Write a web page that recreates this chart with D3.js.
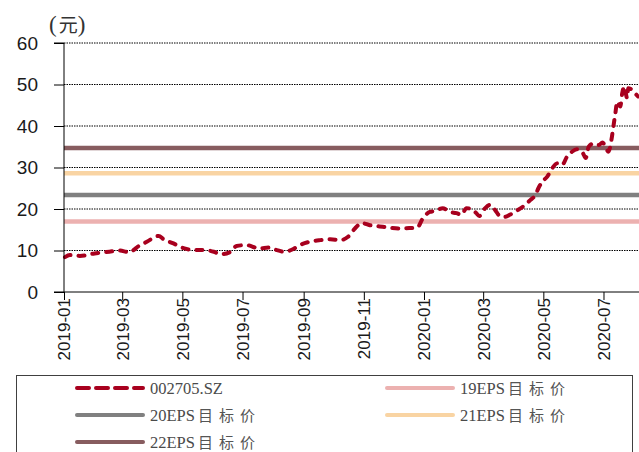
<!DOCTYPE html>
<html>
<head>
<meta charset="utf-8">
<script src="https://cdn.jsdelivr.net/npm/d3@7"></script>
<style>
  body { margin: 0; background: #fff; }
  svg { display: block; }
</style>
</head>
<body>
<div id="chart"></div>
<script>
var svgWidth = 639;
var svgHeight = 452;

// plot area
var margin = { top: 43, right: 0, bottom: 160, left: 64 };
var width = svgWidth - margin.left - margin.right;
var height = svgHeight - margin.top - margin.bottom;

// stock price
var priceDates = [
  "2019-01-02","2019-01-07","2019-01-17","2019-02-01","2019-02-16","2019-02-26","2019-03-08","2019-03-18",
  "2019-03-26","2019-04-07","2019-04-12","2019-04-22","2019-05-03","2019-05-13","2019-05-23","2019-06-02",
  "2019-06-09","2019-06-19","2019-06-25","2019-07-05","2019-07-18","2019-07-28","2019-08-05","2019-08-12",
  "2019-08-21","2019-08-28","2019-09-07","2019-09-18","2019-09-28","2019-10-08","2019-10-16","2019-10-23",
  "2019-10-30","2019-11-07","2019-11-17","2019-11-27","2019-12-07","2019-12-17","2019-12-25","2019-12-31",
  "2020-01-07","2020-01-12","2020-01-20","2020-01-27","2020-02-03","2020-02-08","2020-02-13","2020-02-18",
  "2020-02-23","2020-02-26","2020-03-03","2020-03-08","2020-03-13","2020-03-18","2020-03-23","2020-03-28",
  "2020-04-04","2020-04-11","2020-04-18","2020-04-23","2020-04-26","2020-04-30","2020-05-05","2020-05-10",
  "2020-05-15","2020-05-20","2020-05-25","2020-05-30","2020-06-04","2020-06-10","2020-06-13","2020-06-16",
  "2020-06-21","2020-06-26","2020-06-30","2020-07-03","2020-07-06","2020-07-09","2020-07-11","2020-07-13",
  "2020-07-15","2020-07-18","2020-07-20","2020-07-22","2020-07-25","2020-07-26","2020-07-30","2020-08-02",
  "2020-08-05"
];
var priceValues = [
  8.4, 8.9, 8.7, 9.3, 9.7, 10.0, 9.6, 11.1,
  12.1, 13.5, 12.7, 11.7, 10.5, 10.1, 10.1, 9.7,
  9.1, 9.7, 11.1, 11.3, 10.5, 10.7, 10.1, 9.7,
  10.3, 11.3, 12.1, 12.5, 12.7, 12.5, 13.3, 15.3,
  16.6, 16.1, 15.8, 15.5, 15.3, 15.4, 15.5, 17.8,
  19.3, 19.5, 20.2, 19.3, 19.0, 18.6, 20.2, 20.0,
  19.0, 18.3, 20.2, 21.0, 19.8, 18.3, 18.1, 18.6,
  19.6, 20.7, 22.2, 23.4, 25.0, 26.6, 27.8, 29.8,
  31.0, 30.6, 32.6, 33.8, 34.4, 33.5, 32.3, 35.0,
  35.8, 35.4, 36.0, 35.0, 33.8, 36.6, 39.8, 43.0,
  45.9, 44.7, 47.9, 49.5, 46.7, 49.1, 48.7, 47.9,
  47.1
];

// target price lines
var targetNames = ["19EPS目标价", "20EPS目标价", "21EPS目标价", "22EPS目标价"];
var targetValues = [17.0, 23.4, 28.6, 34.7];
var targetColors = ["#ecb1b0", "#808080", "#f9d4a3", "#875c5f"];

var yTicks = [0, 10, 20, 30, 40, 50, 60];
var xTickDates = ["2019-01","2019-03","2019-05","2019-07","2019-09","2019-11",
                  "2020-01","2020-03","2020-05","2020-07"];

var parseDay = d3.timeParse("%Y-%m-%d");
var parseMonth = d3.timeParse("%Y-%m");
var priceData = priceDates.map(function(d, i) {
  return { date: parseDay(d), value: priceValues[i] };
});

var svg = d3.select("#chart")
  .append("svg")
  .attr("width", svgWidth)
  .attr("height", svgHeight);

var chart = svg.append("g")
  .attr("transform", `translate(${margin.left}, ${margin.top})`);

var xScale = d3.scaleTime()
  .domain([parseDay("2019-01-01"), parseDay("2020-08-06")])
  .range([0, width]);

var yScale = d3.scaleLinear()
  .domain([0, 60])
  .range([height, 0]);

// dotted grid lines
chart.append("g")
  .selectAll("line")
  .data(yTicks.filter(d => d > 0))
  .enter()
  .append("line")
  .attr("x1", 0)
  .attr("x2", width)
  .attr("y1", d => yScale(d))
  .attr("y2", d => yScale(d))
  .attr("stroke", "#000")
  .attr("stroke-width", 1)
  .attr("stroke-dasharray", "1.5,1");

// target price lines
chart.append("g")
  .selectAll("line")
  .data(targetValues)
  .enter()
  .append("line")
  .attr("x1", xScale.range()[0])
  .attr("x2", xScale.range()[1])
  .attr("y1", d => yScale(d))
  .attr("y2", d => yScale(d))
  .attr("stroke", (d, i) => targetColors[i])
  .attr("stroke-width", 4.5);

// stock line
var line = d3.line()
  .x(d => xScale(d.date))
  .y(d => yScale(d.value))
  .curve(d3.curveMonotoneX);

chart.append("path")
  .datum(priceData)
  .attr("fill", "none")
  .attr("stroke", "#a8001e")
  .attr("stroke-width", 4)
  .attr("stroke-linecap", "round")
  .attr("stroke-dasharray", "6,8")
  .attr("d", line);

// axes
var leftAxis = d3.axisLeft(yScale).tickValues(yTicks).tickSize(10).tickPadding(16);
var bottomAxis = d3.axisBottom(xScale)
  .tickValues(xTickDates.map(parseMonth))
  .tickFormat(d3.timeFormat("%Y-%m"))
  .tickSize(8);

var yAxisG = chart.append("g").call(leftAxis);
yAxisG.select(".domain").attr("d", `M-10,${height}H0V0H-10`).attr("stroke", "#000");
yAxisG.selectAll("text")
  .attr("font-family", "Liberation Sans, Arial, sans-serif")
  .attr("font-size", "19px")
  .attr("fill", "#1a1a1a");

var xAxisG = chart.append("g")
  .attr("transform", `translate(0, ${height})`)
  .call(bottomAxis);
xAxisG.select(".domain").attr("d", `M0,0H${width}`).attr("stroke", "#000");
xAxisG.selectAll("text")
  .attr("font-family", "Liberation Sans, Arial, sans-serif")
  .attr("font-size", "17px")
  .attr("fill", "#1a1a1a")
  .attr("transform", "rotate(-90)")
  .attr("text-anchor", "end")
  .attr("x", -6)
  .attr("y", 0)
  .attr("dy", "0.35em");

// unit label
var unit = svg.append("text")
  .attr("x", 49)
  .attr("y", 32)
  .attr("fill", "#333");
unit.append("tspan").attr("font-family", "Liberation Serif, serif").attr("font-size", "23px").text("(");
unit.append("tspan").attr("font-family", "Noto Sans CJK SC, sans-serif").attr("font-size", "19px").attr("dx", 2).text("元");
unit.append("tspan").attr("font-family", "Liberation Serif, serif").attr("font-size", "23px").text(")");

// legend
var legend = svg.append("g");
legend.append("rect")
  .attr("x", 16.5)
  .attr("y", 375.5)
  .attr("width", 616)
  .attr("height", 90)
  .attr("fill", "none")
  .attr("stroke", "#404040")
  .attr("stroke-width", 1);

var legendItems = [
  { name: "002705.SZ", color: "#a8001e", dash: true },
  { name: targetNames[0], color: targetColors[0] },
  { name: targetNames[1], color: targetColors[1] },
  { name: targetNames[2], color: targetColors[2] },
  { name: targetNames[3], color: targetColors[3] }
];
var colX = [75, 385];
var rowY = [388, 415, 442];

legendItems.forEach(function(item, i) {
  var lx = colX[i % 2];
  var ly = rowY[Math.floor(i / 2)];
  var ln = legend.append("line")
    .attr("x1", lx + 2)
    .attr("x2", lx + 68)
    .attr("y1", ly)
    .attr("y2", ly)
    .attr("stroke", item.color)
    .attr("stroke-width", 4)
    .attr("stroke-linecap", "round");
  if (item.dash) ln.attr("stroke-dasharray", "12,7");

  var m = item.name.match(/^([0-9A-Za-z.]+)(.*)$/);
  var t = legend.append("text")
    .attr("x", lx + 75)
    .attr("y", ly + 5.5)
    .attr("fill", "#4a4a4a")
    .attr("font-size", "16.5px");
  t.append("tspan")
    .attr("font-family", "Liberation Serif, Times New Roman, serif")
    .text(m[1]);
  if (m[2]) {
    t.append("tspan")
      .attr("font-family", "Noto Sans CJK SC, sans-serif")
      .attr("font-size", "15px")
      .attr("letter-spacing", "6px")
      .attr("fill", "#555")
      .attr("dx", 3)
      .text(m[2]);
  }
});
</script>
</body>
</html>
